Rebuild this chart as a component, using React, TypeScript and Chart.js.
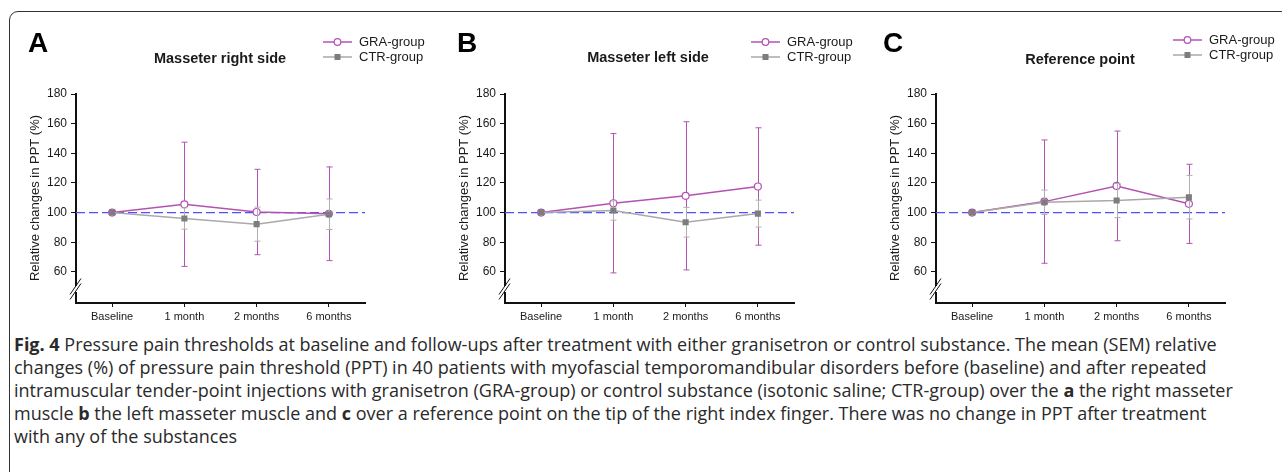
import React, { useEffect, useRef } from "react";
import { Chart, registerables } from "chart.js";

Chart.register(...registerables);

// ---------- data ----------
const categories = ["Baseline", "1 month", "2 months", "6 months"];
const yTickValues = [60, 80, 100, 120, 140, 160, 180];
const yMin = 39;
const yMax = 180;
const referenceLevel = 100;
const seriesNames = ["GRA-group", "CTR-group"];
const panelLetters = ["A", "B", "C"];
const panelTitles = ["Masseter right side", "Masseter left side", "Reference point"];
const yAxisTitle = "Relative changes in PPT (%)";

const graRightMean = [100, 105.6, 100.4, 99.2];
const graRightSem = [0, 41.9, 28.8, 31.6];
const ctrRightMean = [100, 96.0, 92.2, 98.9];
const ctrRightSem = [0, 7.2, 11.5, 10.3];

const graLeftMean = [100, 106.3, 111.3, 117.6];
const graLeftSem = [0, 47.0, 50.0, 39.6];
const ctrLeftMean = [100, 101.4, 93.5, 99.3];
const ctrLeftSem = [0, 6.5, 10.0, 9.1];

const graRefMean = [100, 107.4, 118.0, 105.9];
const graRefSem = [0, 41.6, 37.0, 26.7];
const ctrRefMean = [100, 107.0, 108.1, 110.4];
const ctrRefSem = [0, 8.2, 11.5, 14.7];

const panelMeans = [
  [graRightMean, ctrRightMean],
  [graLeftMean, ctrLeftMean],
  [graRefMean, ctrRefMean],
];
const panelSems = [
  [graRightSem, ctrRightSem],
  [graLeftSem, ctrLeftSem],
  [graRefSem, ctrRefSem],
];

// ---------- layout / style ----------
const FONT = "'Liberation Sans', Arial, Helvetica, sans-serif";
const CAPTION_FONT = "'Open Sans', 'Liberation Sans', sans-serif";
const PURPLE = "#b452b4";
const GRAY_LINE = "#a9a9a9";
const GRAY_MARK = "#7d7d7d";
const GRAY_ERR = "#b0b0b0";
const REF_BLUE = "#5050ff";
const TEXT = "#1a1a1a";

const panelLayout = [
  { left: 0, width: 430, padRight: 65, letterX: 28, titleX: 220, titleY: 59, legendX: 323, legendY: 42 },
  { left: 429, width: 430, padRight: 65, letterX: 28, titleX: 219, titleY: 58, legendX: 322, legendY: 42 },
  { left: 860, width: 422, padRight: 57, letterX: 23, titleX: 220, titleY: 60, legendX: 313, legendY: 40 },
];
const CANVAS_H = 330;

const decorPlugin = {
  id: "panelDecor",
  beforeDatasetsDraw(chart: any) {
    const { ctx, chartArea, scales } = chart;
    const y = scales.y.getPixelForValue(referenceLevel);
    ctx.save();
    ctx.strokeStyle = REF_BLUE;
    ctx.lineWidth = 1.3;
    ctx.setLineDash([9, 4]);
    ctx.beginPath();
    ctx.moveTo(chartArea.left, y);
    ctx.lineTo(chartArea.right, y);
    ctx.stroke();
    ctx.restore();
  },
  beforeDatasetDraw(chart: any, args: any, opts: any) {
    const { ctx, scales } = chart;
    const i = args.index;
    const sems: number[] = opts.sems[i];
    const means: number[] = chart.data.datasets[i].data;
    ctx.save();
    ctx.strokeStyle = i === 0 ? PURPLE : GRAY_ERR;
    ctx.lineWidth = 1;
    means.forEach((m, k) => {
      const s = sems[k];
      if (!s) return;
      const x = Math.round(scales.x.getPixelForValue(k)) + 0.5;
      const yt = scales.y.getPixelForValue(m + s);
      const yb = scales.y.getPixelForValue(m - s);
      ctx.beginPath();
      ctx.moveTo(x, yt);
      ctx.lineTo(x, yb);
      ctx.moveTo(x - 3, yt);
      ctx.lineTo(x + 3, yt);
      ctx.moveTo(x - 3, yb);
      ctx.lineTo(x + 3, yb);
      ctx.stroke();
    });
    ctx.restore();
  },
  afterDraw(chart: any, _args: any, opts: any) {
    const { ctx, chartArea } = chart;
    const L = opts.layout;
    ctx.save();
    // axis break
    const ax = chartArea.left;
    const by = chartArea.bottom - 14;
    ctx.fillStyle = "#fff";
    ctx.fillRect(ax - 2, by - 3, 4, 6);
    ctx.strokeStyle = "#111";
    ctx.lineWidth = 1;
    for (const d of [-2.5, 2.5]) {
      ctx.beginPath();
      ctx.moveTo(ax - 6, by + d + 8);
      ctx.lineTo(ax + 5, by + d - 8);
      ctx.stroke();
    }
    // letter
    ctx.fillStyle = "#000";
    ctx.font = `bold 28px ${FONT}`;
    ctx.textAlign = "left";
    ctx.textBaseline = "alphabetic";
    ctx.fillText(opts.letter, L.letterX, 52);
    // title
    ctx.fillStyle = TEXT;
    ctx.font = `bold 14.5px ${FONT}`;
    ctx.textAlign = "center";
    ctx.textBaseline = "middle";
    ctx.fillText(opts.title, L.titleX, L.titleY);
    // y axis title
    ctx.save();
    ctx.translate(35, 198);
    ctx.rotate(-Math.PI / 2);
    ctx.font = `13px ${FONT}`;
    ctx.textAlign = "center";
    ctx.textBaseline = "middle";
    ctx.fillText(yAxisTitle, 0, 0);
    ctx.restore();
    // legend
    seriesNames.forEach((name, i) => {
      const yy = L.legendY + i * 15;
      const x0 = L.legendX;
      const x1 = x0 + 29;
      const cx = (x0 + x1) / 2;
      ctx.strokeStyle = i === 0 ? PURPLE : GRAY_LINE;
      ctx.lineWidth = 1.5;
      ctx.beginPath();
      ctx.moveTo(x0, yy);
      ctx.lineTo(x1, yy);
      ctx.stroke();
      if (i === 0) {
        ctx.beginPath();
        ctx.arc(cx, yy, 3.3, 0, Math.PI * 2);
        ctx.fillStyle = "#fff";
        ctx.fill();
        ctx.lineWidth = 1.2;
        ctx.strokeStyle = PURPLE;
        ctx.stroke();
      } else {
        ctx.fillStyle = GRAY_MARK;
        ctx.fillRect(cx - 3, yy - 3, 6, 6);
      }
      ctx.fillStyle = TEXT;
      ctx.font = `13px ${FONT}`;
      ctx.textAlign = "left";
      ctx.textBaseline = "middle";
      ctx.fillText(name, x1 + 7, yy);
    });
    ctx.restore();
  },
};

function Panel({ index }: { index: number }) {
  const ref = useRef<HTMLCanvasElement | null>(null);
  const L = panelLayout[index];
  useEffect(() => {
    if (!ref.current) return;
    const [gra, ctr] = panelMeans[index];
    const chart = new Chart(ref.current, {
      type: "line",
      data: {
        labels: categories,
        datasets: [
          {
            label: seriesNames[0],
            data: gra,
            borderColor: PURPLE,
            borderWidth: 1.5,
            pointStyle: "circle",
            pointRadius: 3.5,
            pointBackgroundColor: "#fff",
            pointBorderColor: PURPLE,
            pointBorderWidth: 1.2,
            tension: 0,
            order: 2,
          },
          {
            label: seriesNames[1],
            data: ctr,
            borderColor: GRAY_LINE,
            borderWidth: 1.5,
            pointStyle: "rect",
            pointRadius: 4.3,
            pointBackgroundColor: GRAY_MARK,
            pointBorderColor: GRAY_MARK,
            pointBorderWidth: 0,
            tension: 0,
            order: 1,
          },
        ],
      },
      options: {
        responsive: false,
        animation: false,
        devicePixelRatio: 1,
        layout: { padding: { left: 36, top: 94, right: L.padRight, bottom: 0 } },
        plugins: {
          legend: { display: false },
          tooltip: { enabled: false },
          title: { display: false },
          panelDecor: {
            sems: panelSems[index],
            letter: panelLetters[index],
            title: panelTitles[index],
            layout: L,
          },
        } as any,
        scales: {
          x: {
            type: "category",
            offset: true,
            grid: { display: true, drawOnChartArea: false, drawTicks: true, tickLength: 4, offset: false, color: "#111", lineWidth: 1 },
            border: { display: true, color: "#111", width: 2 },
            ticks: { color: TEXT, font: { family: FONT, size: 11 }, padding: 3, maxRotation: 0, autoSkip: false },
            afterFit: (s: any) => {
              s.height = 27;
            },
          },
          y: {
            type: "linear",
            min: yMin,
            max: yMax,
            grid: { display: true, drawOnChartArea: false, drawTicks: true, tickLength: 5, color: "#111", lineWidth: 1 },
            border: { display: true, color: "#111", width: 2 },
            ticks: { color: TEXT, font: { family: FONT, size: 12 }, padding: 4 },
            afterBuildTicks: (s: any) => {
              s.ticks = yTickValues.map((v) => ({ value: v }));
            },
            afterFit: (s: any) => {
              s.width = 40;
            },
          },
        },
      },
      plugins: [decorPlugin],
    });
    return () => chart.destroy();
  }, [index]);
  return (
    <canvas
      ref={ref}
      width={L.width}
      height={CANVAS_H}
      style={{ position: "absolute", left: L.left, top: 0, width: L.width, height: CANVAS_H }}
    />
  );
}

const captionStyle: React.CSSProperties = {
  position: "absolute",
  left: 14,
  top: 333,
  fontFamily: CAPTION_FONT,
  fontSize: 18,
  lineHeight: "23px",
  color: "#2a2a2a",
  whiteSpace: "nowrap",
  margin: 0,
};

export default function App() {
  return (
    <div
      style={{
        position: "fixed",
        left: 0,
        top: 0,
        width: 1282,
        height: 472,
        overflow: "hidden",
        background: "#fff",
      }}
    >
      <div
        style={{
          position: "absolute",
          left: 9,
          top: 11,
          width: 1400,
          height: 600,
          border: "1.6px solid #333",
          borderTopLeftRadius: 9,
          boxSizing: "border-box",
        }}
      />
      {[0, 1, 2].map((i) => (
        <Panel key={i} index={i} />
      ))}
      <p style={captionStyle}>
        <b>Fig. 4</b> Pressure pain thresholds at baseline and follow-ups after treatment with either granisetron or control substance. The mean (SEM) relative
        <br />
        changes (%) of pressure pain threshold (PPT) in 40 patients with myofascial temporomandibular disorders before (baseline) and after repeated
        <br />
        intramuscular tender-point injections with granisetron (GRA-group) or control substance (isotonic saline; CTR-group) over the <b>a</b> the right masseter
        <br />
        muscle <b>b</b> the left masseter muscle and <b>c</b> over a reference point on the tip of the right index finger. There was no change in PPT after treatment
        <br />
        with any of the substances
      </p>
    </div>
  );
}
